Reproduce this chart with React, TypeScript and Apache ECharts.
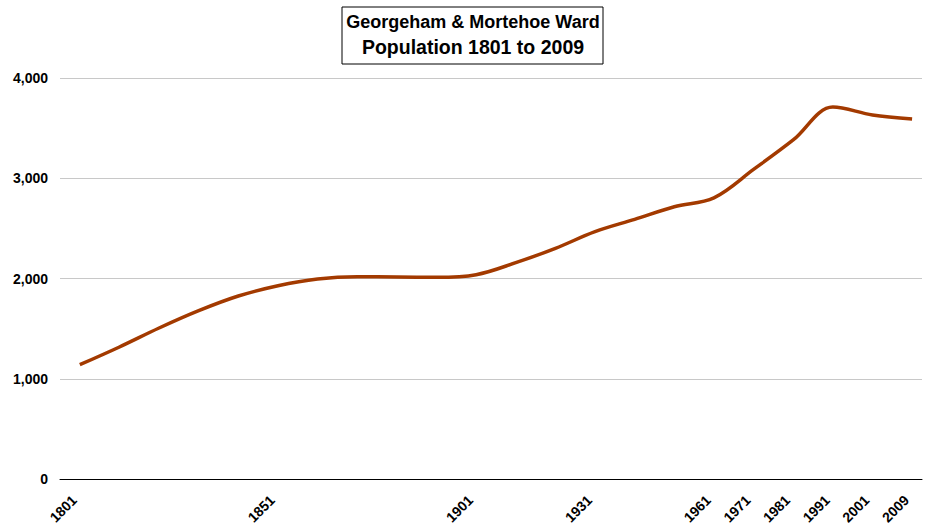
import React, { useEffect, useRef } from "react";
import * as echarts from "echarts";

// Census years (category positions, evenly spaced as in the source chart)
const years = [
  "1801", "1811", "1821", "1831", "1841", "1851", "1861", "1871", "1881", "1891",
  "1901", "1911", "1921", "1931", "1941", "1951", "1961", "1971", "1981", "1991",
  "2001", "2009",
];
// Population values
const population = [
  1140, 1317, 1506, 1679, 1825, 1928, 1995, 2018, 2015, 2012,
  2038, 2158, 2301, 2467, 2590, 2716, 2805, 3088, 3382, 3710,
  3631, 3590,
];
// Years that carry a visible tick label
const labelledYears = ["1801", "1851", "1901", "1931", "1961", "1971", "1981", "1991", "2001", "2009"];
const yTicks = [0, 1000, 2000, 3000, 4000];
const titleLines = ["Georgeham & Mortehoe Ward", "Population 1801 to 2009"];

const FONT = "'Liberation Sans', Arial, sans-serif";

export default function App() {
  const ref = useRef<HTMLDivElement>(null);
  useEffect(() => {
    if (!ref.current) return;
    const chart = echarts.init(ref.current, undefined, { renderer: "svg" });
    const data = population.map((v, i) => [i, v]);
    const labelIdx = labelledYears.map((y) => years.indexOf(y));
    chart.setOption({
      animation: false,
      backgroundColor: "#ffffff",
      textStyle: { fontFamily: FONT },
      grid: {
        left: 60,
        right: 3,
        top: 78,
        bottom: 50,
        containLabel: false,
        outerBoundsMode: "none",
      },
      xAxis: {
        type: "value",
        min: -0.5,
        max: years.length - 1 + 0.25,
        axisLine: { show: true, onZero: false, lineStyle: { color: "#000000", width: 1 } },
        axisTick: { show: false },
        splitLine: { show: false },
        axisLabel: {
          customValues: labelIdx,
          rotate: 45,
          margin: 13,
          padding: [0, 8, 0, 0],
          color: "#000000",
          fontWeight: "bold",
          fontSize: 14,
          fontFamily: FONT,
          formatter: (v: number) => years[Math.round(v)] ?? "",
        },
      },
      yAxis: {
        type: "value",
        min: yTicks[0],
        max: yTicks[yTicks.length - 1],
        interval: 1000,
        axisLine: { show: false },
        axisTick: { show: false },
        splitLine: { show: true, lineStyle: { color: "#c8c8c8", width: 1 } },
        axisLabel: {
          margin: 12,
          color: "#000000",
          fontWeight: "bold",
          fontSize: 14,
          fontFamily: FONT,
          formatter: (v: number) => v.toLocaleString("en-US"),
        },
      },
      series: [
        {
          type: "line",
          data,
          smooth: 0.35,
          showSymbol: false,
          symbol: "none",
          lineStyle: { color: "#a33a00", width: 3.5 },
          z: 3,
        },
      ],
      graphic: [
        {
          type: "group",
          children: [
            {
              type: "rect",
              shape: { x: 342, y: 7, width: 261, height: 57 },
              style: { fill: "#ffffff", stroke: "#000000", lineWidth: 1 },
            },
            {
              type: "text",
              x: 473,
              y: 22,
              style: {
                text: titleLines[0],
                fill: "#000000",
                font: `bold 18px ${FONT}`,
                textAlign: "center",
                textVerticalAlign: "middle",
              },
            },
            {
              type: "text",
              x: 473,
              y: 47,
              style: {
                text: titleLines[1],
                fill: "#000000",
                font: `bold 19.5px ${FONT}`,
                textAlign: "center",
                textVerticalAlign: "middle",
              },
            },
          ],
        },
      ],
    });
    return () => chart.dispose();
  }, []);
  return <div ref={ref} style={{ width: 925, height: 529, position: "absolute", left: 0, top: 0 }} />;
}
